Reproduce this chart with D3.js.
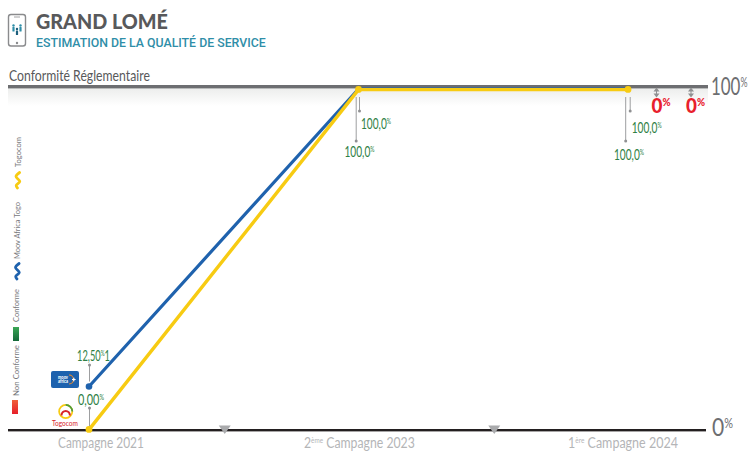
<!DOCTYPE html>
<html lang="fr">
<head>
<meta charset="utf-8">
<title>Grand Lomé</title>
<script src="https://cdn.jsdelivr.net/npm/d3@7"></script>
<style>
  html, body { margin: 0; padding: 0; background: #fff; }
  svg { display: block; }
  text { font-family: Lato, "Open Sans", sans-serif; }
</style>
</head>
<body>
<div id="chart"></div>
<script>
// Values of the regulatory compliance indicator, per measurement campaign
const campaigns = ["Campagne 2021", "2ème Campagne 2023", "1ère Campagne 2024"];
const moovValues = [12.5, 100, 100];
const togocomValues = [0, 100, 100];
const moovLabels = ["12,50", "100,0", "100,0"];
const togocomLabels = ["0,00", "100,0", "100,0"];
const nonCompliantShares = [0, 0];
const legendNames = ["Togocom", "Moov Africa Togo", "Conforme", "Non Conforme"];

const width = 748, height = 453;
const svg = d3.select("#chart").append("svg").attr("width", width).attr("height", height);
const defs = svg.append("defs");

const x = d3.scalePoint().domain(campaigns).range([89, 628]);
const y = d3.scaleLinear().domain([0, 100]).range([429, 89]);

const BLUE = "#1f62ad", YELLOW = "#f7cb12", GREEN = "#2f7f45", RED = "#e8202c",
      GREY = "#6d6e71", LIGHT = "#b4b5b7", TEAL = "#2f8ea8", STEM = "#9d9ea0";

// Squeezes a text horizontally to the wanted length, for the condensed look of the report typeface
function squeeze(t, px, py, len, rotate) {
  const natural = t.node().getComputedTextLength();
  const turn = rotate ? ` rotate(${rotate})` : "";
  t.attr("transform", `translate(${px},${py})${turn} scale(${len / natural},1)`);
  return t;
}
function fitted(parent, px, py, len, size, fill, str, weight, rotate, family) {
  const t = parent.append("text")
    .attr("font-size", size).attr("fill", fill).attr("font-weight", weight || 400).text(str);
  if (family) t.style("font-family", family);
  return squeeze(t, px, py, len, rotate);
}
// A squeezed run made of normal and raised parts: [string, raised?] pairs
function fittedRuns(parent, px, py, len, size, fill, runs, weight) {
  const t = parent.append("text")
    .attr("font-size", size).attr("fill", fill).attr("font-weight", weight || 400);
  let raised = false;
  runs.forEach(([str, up]) => {
    const shift = up === raised ? 0 : (up ? -0.32 * size : 0.32 * size);
    t.append("tspan").attr("dy", shift).attr("font-size", up ? size * 0.52 : size).text(str);
    raised = up;
  });
  return squeeze(t, px, py, len);
}
function withSup(px, py, len, size, fill, main, sup, tail) {
  const runs = [[main, false], [sup, true]];
  if (tail) runs.push([tail, false]);
  return fittedRuns(svg, px, py, len, size, fill, runs);
}

/* ---------- header ---------- */
const phone = svg.append("g");
phone.append("rect").attr("x", 8.5).attr("y", 14.5).attr("width", 17).attr("height", 31.5).attr("rx", 2.5)
  .attr("fill", "#fff").attr("stroke", "#8a8b8d").attr("stroke-width", 1.4);
phone.append("circle").attr("cx", 17).attr("cy", 43).attr("r", 1.2).attr("fill", "#8a8b8d");
phone.append("line").attr("x1", 14).attr("x2", 20).attr("y1", 17).attr("y2", 17).attr("stroke", "#8a8b8d").attr("stroke-width", .8);
[[13.5, 27.5, TEAL], [17, 31, "#1d5f7c"], [20.5, 27.5, TEAL]].forEach(([cx, cy, c]) => {
  phone.append("circle").attr("cx", cx).attr("cy", cy - 2).attr("r", 1.2).attr("fill", c);
  phone.append("rect").attr("x", cx - 1.1).attr("y", cy - 0.5).attr("width", 2.2).attr("height", 4.5).attr("rx", .6).attr("fill", c);
});
fitted(svg, 36, 29, 132, 20.5, "#58595b", "GRAND LOMÉ", 900);
fitted(svg, 36, 46.5, 230, 13, TEAL, "ESTIMATION DE LA QUALITÉ DE SERVICE", 500, null, "Roboto");
fitted(svg, 9, 81, 141, 14.5, "#58595b", "Conformité Réglementaire");

/* ---------- frame: top band with its soft shadow, baseline, end labels ---------- */
const shade = defs.append("linearGradient").attr("id", "band-shadow")
  .attr("x1", 0).attr("x2", 0).attr("y1", 0).attr("y2", 1);
shade.append("stop").attr("offset", 0).attr("stop-color", "#ecedec");
shade.append("stop").attr("offset", 1).attr("stop-color", "#fff");
svg.append("rect").attr("x", 8).attr("y", 88).attr("width", 700).attr("height", 18).attr("fill", "url(#band-shadow)");
svg.append("rect").attr("x", 8).attr("y", 85).attr("width", 700).attr("height", 3.4).attr("fill", GREY);
svg.append("rect").attr("x", 8).attr("y", y(0)).attr("width", 698).attr("height", 2.4).attr("fill", "#231f20");

withSup(711, 95, 36.5, 25, GREY, "100", "%");
withSup(712, 436, 21, 25, GREY, "0", "%");

// Markers between campaigns on the baseline
d3.pairs(campaigns).forEach(([a, b]) => {
  const mid = (x(a) + x(b)) / 2 + 1;
  svg.append("path").attr("d", `M${mid - 6},425.5 h12 l-6,8.5 z`).attr("fill", "#a9aaac");
});

/* ---------- campaign labels ---------- */
fitted(svg, 58, 448, 86, 15, LIGHT, campaigns[0]);
fittedRuns(svg, 304, 448, 111, 15, LIGHT, [["2", false], ["ème", true], [" Campagne 2023", false]]);
fittedRuns(svg, 568, 448, 110, 15, LIGHT, [["1", false], ["ère", true], [" Campagne 2024", false]]);

/* ---------- series ---------- */
const line = d3.line().x((d, i) => x(campaigns[i])).y(d => y(d));
svg.append("path").datum(moovValues).attr("d", line).attr("fill", "none")
  .attr("stroke", BLUE).attr("stroke-width", 3.2).attr("stroke-linejoin", "round");
svg.append("path").datum(togocomValues).attr("d", line).attr("fill", "none")
  .attr("stroke", YELLOW).attr("stroke-width", 3.4).attr("stroke-linejoin", "round")
  .attr("transform", "translate(0,0.6)");
svg.append("circle").attr("cx", x(campaigns[0])).attr("cy", y(moovValues[0])).attr("r", 3.3).attr("fill", BLUE);
togocomValues.forEach((v, i) => {
  svg.append("circle").attr("cx", x(campaigns[i])).attr("cy", y(v) + 0.4).attr("r", 3.4).attr("fill", YELLOW);
});

/* ---------- callouts: a grey stem ending in a dot, then the value ---------- */
function stem(px, y1, y2) {
  svg.append("line").attr("x1", px).attr("x2", px).attr("y1", y1).attr("y2", y2)
    .attr("stroke", STEM).attr("stroke-width", 1);
  svg.append("circle").attr("cx", px).attr("cy", y2).attr("r", 1.5).attr("fill", "#8f9092");
}
// First campaign: stems rise above the points
stem(89.5, y(moovValues[0]) - 5, 365);
withSup(77, 361, 33, 14.5, GREEN, moovLabels[0], "%", "1");
stem(89.5, y(togocomValues[0]) - 3, 408);
withSup(78, 405, 26, 14.5, GREEN, togocomLabels[0], "%");

// Later campaigns: stems hang below the top band
[1, 2].forEach(i => {
  const cx = x(campaigns[i]);
  stem(cx - 2.3, 97, 141);
  stem(cx + (i === 1 ? 1 : 2.2), 97, 111);
  withSup(cx - 14, i === 1 ? 157 : 160, 30, 14.5, GREEN, togocomLabels[i], "%");
  withSup(cx + (i === 1 ? 2.5 : 3.7), i === 1 ? 129 : 133, 30, 14.5, GREEN, moovLabels[i], "%");
});

/* ---------- non-compliant shares at the right end ---------- */
[656.5, 691].forEach((cx, i) => {
  svg.append("path").attr("d", `M${cx},87.5 l-3,4 h6 z M${cx},97.5 l-3,-4 h6 z`).attr("fill", "#8f9092");
  svg.append("line").attr("x1", cx).attr("x2", cx).attr("y1", 90).attr("y2", 95).attr("stroke", "#8f9092");
  fittedRuns(svg, cx - 5, 113, 19, 21, RED, [[String(nonCompliantShares[i]), false], ["%", true]], 900);
});

/* ---------- rotated legend ---------- */
function legendLabel(px, py, len, str) {
  fitted(svg, px, py, len, 7.5, "#77787b", str, 400, -90);
}
function squiggle(cx, top, color) {
  const wave = [[1.6, 0], [-2, 4], [1.8, 9], [-1.8, 13], [-0.5, 15.5]];
  svg.append("path").attr("d", d3.line().curve(d3.curveCatmullRom)
      .x(d => cx + d[0]).y(d => top + d[1])(wave))
    .attr("fill", "none").attr("stroke", color).attr("stroke-width", 2.8).attr("stroke-linecap", "round");
}
legendLabel(20.5, 167, 30, legendNames[0]);
squiggle(18, 172.5, YELLOW);
legendLabel(20, 259, 57, legendNames[1]);
squiggle(17.5, 263.5, BLUE);
legendLabel(19, 322, 33, legendNames[2]);
legendLabel(18.5, 396, 51, legendNames[3]);

const g1 = defs.append("linearGradient").attr("id", "legend-green").attr("x1", 0).attr("x2", 0).attr("y1", 0).attr("y2", 1);
g1.append("stop").attr("offset", 0).attr("stop-color", "#3aa655");
g1.append("stop").attr("offset", 1).attr("stop-color", "#14683a");
const g2 = defs.append("linearGradient").attr("id", "legend-red").attr("x1", 0).attr("x2", 0).attr("y1", 0).attr("y2", 1);
g2.append("stop").attr("offset", 0).attr("stop-color", "#f0603a");
g2.append("stop").attr("offset", 1).attr("stop-color", "#e61e2a");
svg.append("rect").attr("x", 13).attr("y", 327).attr("width", 6).attr("height", 14).attr("fill", "url(#legend-green)");
svg.append("rect").attr("x", 12).attr("y", 400).attr("width", 6).attr("height", 14).attr("fill", "url(#legend-red)");

/* ---------- operator badges ---------- */
svg.append("rect").attr("x", 51).attr("y", 371).attr("width", 28).attr("height", 17).attr("rx", 2).attr("fill", "#1d62ae");
fitted(svg, 58, 378.5, 10, 5, "#fff", "moov", 900);
fitted(svg, 58, 383, 10, 5, "#fff", "africa", 900);
svg.append("path").attr("d", "M69,375 a4.5,4.5 0 0 1 0,9").attr("fill", "none").attr("stroke", "#f28c28").attr("stroke-width", 1.1);
svg.append("path").attr("d", "M72,379.5 h3.6 M73.8,377.7 v3.6").attr("stroke", "#fff").attr("stroke-width", 1.2);

svg.append("circle").attr("cx", 65.7).attr("cy", 411.5).attr("r", 6.6).attr("fill", "none").attr("stroke", YELLOW).attr("stroke-width", 1.7);
svg.append("path").attr("d", "M65.7,404.9 a6.6,6.6 0 0 1 6.6,6.6").attr("fill", "none").attr("stroke", "#4f9c3c").attr("stroke-width", 1.7);
svg.append("path").attr("d", "M61.5,415.5 a4.2,4.6 0 0 1 8.4,0").attr("fill", "none").attr("stroke", "#d8232a").attr("stroke-width", 2);
fitted(svg, 52, 426, 26, 7, "#d8232a", legendNames[0]);
</script>
</body>
</html>
